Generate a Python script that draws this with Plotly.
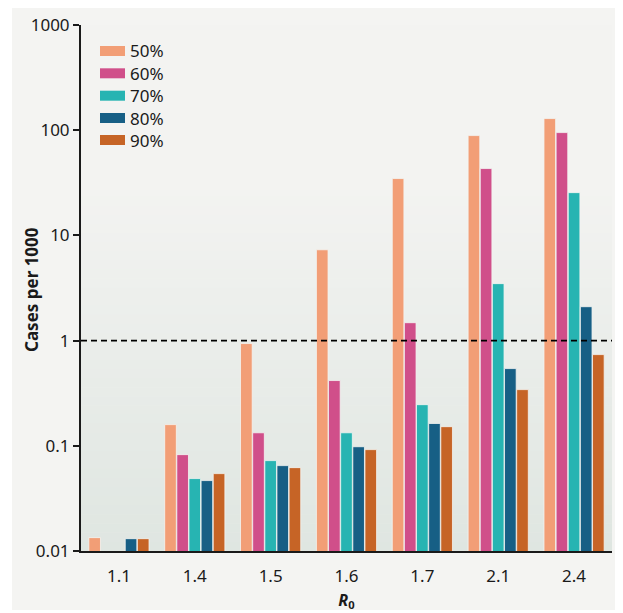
import plotly.graph_objects as go

categories = ["1.1", "1.4", "1.5", "1.6", "1.7", "2.1", "2.4"]
series_names = ["50%", "60%", "70%", "80%", "90%"]
v50 = [0.0134, 0.159, 0.937, 7.3, 34.7, 88.9, 129]
v60 = [None, 0.0824, 0.133, 0.417, 1.48, 43.2, 94.9]
v70 = [None, 0.0488, 0.0723, 0.133, 0.246, 3.48, 25.5]
v80 = [0.0131, 0.0467, 0.0648, 0.098, 0.163, 0.542, 2.1]
v90 = [0.0131, 0.0544, 0.062, 0.092, 0.152, 0.342, 0.736]
series_values = [v50, v60, v70, v80, v90]
colors = ["#f29e76", "#d04f8a", "#27b4b2", "#175f85", "#c66426"]
y_ticks = [0.01, 0.1, 1, 10, 100, 1000]
y_tick_labels = ["0.01", "0.1", "1", "10", "100", "1000"]
threshold = 1

FONT = "Noto Sans"

# plot area in page pixels (page has 8px body margin)
PX0, PX1, PY0, PY1 = 81, 612, 25, 551
PW, PH = PX1 - PX0, PY1 - PY0


def px(x):
    return (x - PX0) / PW


def py(y):
    return (PY1 - y) / PH


fig = go.Figure()
for name, vals, col in zip(series_names, series_values, colors):
    fig.add_trace(go.Bar(
        x=categories, y=vals, name=name, showlegend=False,
        marker=dict(color=col, line=dict(color="#f4f5f2", width=0.8)),
    ))

shapes = []
annotations = []
# outer panel
shapes.append(dict(type="rect", xref="paper", yref="paper",
                   x0=px(12), x1=px(625), y0=py(610), y1=py(6),
                   fillcolor="#f4f4f2", line=dict(width=0), layer="below"))
# gradient plot background
top_c = (243, 243, 241)
bot_c = (223, 230, 225)
n = 40
g_start = 0.69
shapes.append(dict(type="rect", xref="paper", yref="paper",
                   x0=0, x1=1, y0=g_start, y1=1,
                   fillcolor="rgb(%d,%d,%d)" % top_c, line=dict(width=0), layer="below"))
for i in range(n):
    y1 = g_start * (1 - i / n)
    y0 = g_start * (1 - (i + 1) / n)
    t = (i + 0.5) / n
    c = tuple(round(top_c[k] + (bot_c[k] - top_c[k]) * t) for k in range(3))
    shapes.append(dict(type="rect", xref="paper", yref="paper",
                       x0=0, x1=1, y0=y0, y1=y1 + 0.001,
                       fillcolor="rgb(%d,%d,%d)" % c, line=dict(width=0), layer="below"))
# threshold dashed line
shapes.append(dict(type="line", xref="paper", yref="y", x0=0, x1=1,
                   y0=threshold, y1=threshold,
                   line=dict(color="black", width=1.6, dash="6px,4px"), layer="above"))

# custom legend (wide swatches like the reference)
leg_y = [51, 73.3, 95.7, 118, 140]
for name, col, cy in zip(series_names, colors, leg_y):
    shapes.append(dict(type="rect", xref="paper", yref="paper",
                       x0=px(100), x1=px(125), y0=py(cy + 5), y1=py(cy - 5),
                       fillcolor=col, line=dict(width=0), layer="above"))
    annotations.append(dict(xref="paper", yref="paper", x=px(128), y=py(cy),
                            xanchor="left", yanchor="middle", showarrow=False,
                            text=name, font=dict(size=17, family=FONT, color="#1a1a1a")))

# y-axis title
annotations.append(dict(xref="paper", yref="paper", x=px(32), y=py(290),
                        xanchor="center", yanchor="middle", showarrow=False,
                        textangle=-90, text="<b>Cases per 1000</b>",
                        font=dict(size=17, family=FONT, color="#1a1a1a")))

fig.update_layout(
    width=615, height=605,
    margin=dict(l=PX0 - 8, r=623 - PX1, t=PY0 - 8, b=613 - PY1),
    paper_bgcolor="white",
    plot_bgcolor="#f3f3f1",
    font=dict(family=FONT, size=17, color="#1a1a1a"),
    barmode="group",
    bargap=0.2,
    bargroupgap=0.04,
    shapes=shapes,
    annotations=annotations,
    showlegend=False,
    xaxis=dict(
        automargin=False,
        showgrid=False, zeroline=False,
        showline=True, linecolor="#1a1a1a", linewidth=2,
        ticks="", tickfont=dict(size=17), ticklabelstandoff=9,
        title=dict(text="<b><i>R</i><sub>0</sub></b>", font=dict(size=16), standoff=8),
    ),
    yaxis=dict(
        automargin=False,
        type="log", range=[-2, 3],
        tickvals=y_ticks, ticktext=y_tick_labels,
        showgrid=False, zeroline=False,
        showline=True, linecolor="#1a1a1a", linewidth=2,
        ticks="outside", ticklen=6, tickwidth=1.5, tickcolor="#1a1a1a",
        tickfont=dict(size=17),
    ),
)

fig.write_html("out.html")
